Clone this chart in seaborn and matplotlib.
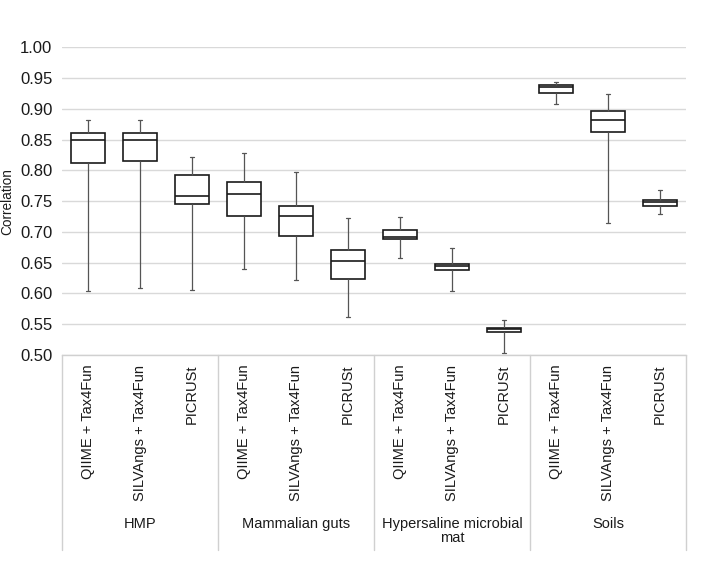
import numpy as np
import pandas as pd
import seaborn as sns
import matplotlib.pyplot as plt

sns.set_theme(style="white")
plt.rcParams["font.family"] = ["Liberation Sans", "DejaVu Sans"]

# Values
groups = ["HMP", "Mammalian guts", "Hypersaline microbial\nmat", "Soils"]
methods = ["QIIME + Tax4Fun", "SILVAngs + Tax4Fun", "PICRUSt"]

whisker_low = [0.604, 0.609, 0.605, 0.640, 0.622, 0.562,
               0.658, 0.604, 0.504, 0.907, 0.715, 0.729]
q1 = [0.812, 0.815, 0.745, 0.725, 0.693, 0.624,
      0.688, 0.638, 0.538, 0.926, 0.862, 0.742]
median = [0.849, 0.850, 0.759, 0.762, 0.725, 0.652,
          0.692, 0.644, 0.542, 0.935, 0.881, 0.748]
q3 = [0.861, 0.860, 0.792, 0.781, 0.742, 0.671,
      0.703, 0.648, 0.544, 0.938, 0.896, 0.752]
whisker_high = [0.882, 0.882, 0.822, 0.828, 0.797, 0.723,
                0.724, 0.674, 0.557, 0.944, 0.924, 0.768]

rows = []
for i in range(len(median)):
    box = f"{i}"
    for v in (whisker_low[i], q1[i], median[i], q3[i], whisker_high[i]):
        rows.append({"box": box, "value": v})
df = pd.DataFrame(rows)
order = [f"{i}" for i in range(len(median))]

fig = plt.figure(figsize=(7.26, 5.76), dpi=100)
ax = fig.add_axes([0.0854, 0.3837, 0.8595, 0.5343])

box_width = 0.67
sns.boxplot(
    data=df, x="box", y="value", order=order, whis=(0, 100), width=box_width,
    color="white", linewidth=1.2, ax=ax,
    boxprops={"edgecolor": "#1a1a1a", "facecolor": "white"},
    medianprops={"color": "#1a1a1a", "linewidth": 1.2},
    whiskerprops={"color": "#555555", "linewidth": 0.9},
    capprops={"color": "#555555", "linewidth": 0.9},
)

# Excel-style tiny whisker caps
for line in ax.lines:
    x = np.asarray(line.get_xdata(), dtype=float)
    y = np.asarray(line.get_ydata(), dtype=float)
    if len(x) == 2 and y[0] == y[1]:
        dx = abs(x[1] - x[0])
        if 0 < dx < 0.95 * box_width:
            c = x.mean()
            line.set_xdata([c - 0.04, c + 0.04])

n_m = len(methods)
ax.set_xlim(-0.5, len(order) - 0.5)
ax.set_ylim(0.5, 1.0)
yt = np.arange(0.5, 1.0001, 0.05)
ax.set_yticks(yt)
ax.set_yticklabels([f"{t:.2f}" for t in yt])
ax.yaxis.grid(True, color="#d9d9d9", linewidth=1.0)
ax.set_axisbelow(True)
for side in ["top", "right", "left"]:
    ax.spines[side].set_visible(False)
ax.spines["bottom"].set_color("#d0d0d0")
ax.spines["bottom"].set_linewidth(1.0)

ax.set_xticks(range(len(order)))
ax.set_xticklabels(methods * len(groups), rotation=90, fontsize=10.5, color="#1a1a1a")
ax.tick_params(axis="x", length=0, pad=7)
ax.tick_params(axis="y", length=0, pad=7, labelsize=12, labelcolor="#1a1a1a")
ax.set_xlabel("")
ax.set_ylabel("Correlation", fontsize=9.8, color="#1a1a1a", labelpad=4)

# group separators and group labels beneath the method labels
trans = ax.get_xaxis_transform()
for g in range(len(groups) + 1):
    xb = g * n_m - 0.5
    ax.plot([xb, xb], [0, -0.633], transform=trans, color="#d0d0d0",
            linewidth=1.0, clip_on=False)
for g, name in enumerate(groups):
    xc = g * n_m + (n_m - 1) / 2
    ax.text(xc, -0.525, name, transform=trans, ha="center", va="top",
            fontsize=10.5, color="#1a1a1a", linespacing=1.05)

fig.savefig("out.png", dpi=100)
